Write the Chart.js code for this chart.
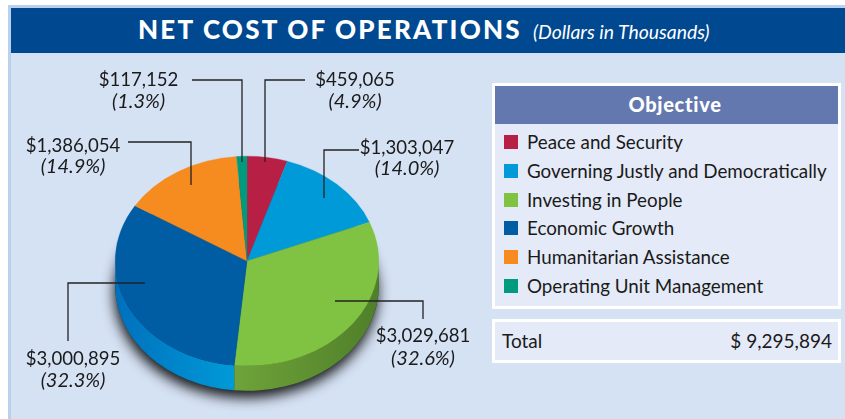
<!DOCTYPE html>
<html><head><meta charset="utf-8">
<script src="https://cdn.jsdelivr.net/npm/chart.js@4"></script>
<style>
html,body{margin:0;padding:0;background:#fff;overflow:hidden}
body{width:845px;height:419px;position:relative;font-family:Lato,sans-serif;color:#1a1a1a}
div{position:absolute;box-sizing:border-box}
#band{left:8px;top:5px;width:837px;height:414px;background:#b9d0ef}
#panel{left:11px;top:8px;width:834px;height:411px;background:#d5e2f4}
#head{left:11px;top:8px;width:834px;height:45px;background:#004890;color:#fff}
#t1{left:127px;top:5px;font-weight:900;font-size:26px;letter-spacing:2.2px;white-space:nowrap}
#t2{left:522px;top:12px;font-style:italic;font-size:19.4px;white-space:nowrap;line-height:24px}
.box{background:#e4eaf7;border:3px solid #fff;left:492px;width:349px}
#legend{top:83px;height:226px}
#lh{left:0;top:0;width:343px;height:38px;background:#6478b0;color:#fff;font-weight:900;font-size:20px;letter-spacing:.7px;text-align:center;line-height:37px;padding-left:17px}
.sw{left:9px;width:14px;height:14px}
.lt{left:32px;font-size:18.8px;white-space:nowrap;line-height:24px}
#total{top:319px;height:44px;font-size:19px}
#tl{left:7px;top:7px}#tv{right:6px;top:7px}
canvas{position:absolute;left:0;top:0}
</style></head><body>
<div id="band"></div><div id="panel"></div>
<div id="head"><div id="t1">NET COST OF OPERATIONS</div><div id="t2">(Dollars in Thousands)</div></div>
<div id="legend" class="box"><div id="lh">Objective</div></div>
<div id="total" class="box"><div id="tl">Total</div><div id="tv">$ 9,295,894</div></div>
<canvas id="c" width="845" height="419"></canvas>
<script>
const categories=["Peace and Security","Governing Justly and Democratically","Investing in People","Economic Growth","Humanitarian Assistance","Operating Unit Management"];
const values=[459065,1303047,3029681,3000895,1386054,117152];
const percents=["(4.9%)","(14.0%)","(32.6%)","(32.3%)","(14.9%)","(1.3%)"];
const colors=["#b81f45","#009ad8","#80c342","#005da4","#f68b1f","#009b7e"];
const wallFrom=["#8f1836","#0078b0","#6fa33a","#0070bc","#c46e16","#007a63"];
const wallTo=["#8f1836","#0078b0","#4f7f29","#009ad8","#c46e16","#007a63"];

// layout constants
const SQUASH=105/132, DEPTH=25;
const labelPos=[[355,86,108],[407,154,175],[423,342,365],[73,365,387],[73,152,173],[138.5,86,108]];
const leaders=[
 [[305,80],[265,80],[265,162]],
 [[359,150],[324,150],[324,198]],
 [[335,301],[423,301],[423,319]],
 [[68,341],[68,283],[145,283]],
 [[128,142],[191,142],[191,185]],
 [[192,80],[242,80],[242,162]]
];

const legend=document.getElementById('legend');
categories.forEach((c,i)=>{
  const s=document.createElement('div');s.className='sw';s.style.top=(49+i*28.8)+'px';s.style.background=colors[i];legend.appendChild(s);
  const t=document.createElement('div');t.className='lt';t.style.top=(44+i*28.8)+'px';t.textContent=c;legend.appendChild(t);
});

const tilt={
  id:'tilt',
  beforeDatasetsDraw(chart){
    const ctx=chart.ctx,arcs=chart.getDatasetMeta(0).data;
    const cx=arcs[0].x,cy=arcs[0].y,rx=arcs[0].outerRadius,ry=rx*SQUASH;
    ctx.save();
    ctx.shadowColor='rgba(0,0,0,0.9)';ctx.shadowBlur=13;ctx.shadowOffsetY=7;ctx.shadowOffsetX=-1;
    ctx.fillStyle='#223';
    ctx.beginPath();ctx.ellipse(cx,cy+DEPTH,rx,ry,0,0,Math.PI*2);ctx.fill();
    ctx.restore();
    arcs.forEach((a,i)=>{
      const s=Math.max(a.startAngle,0),e=Math.min(a.endAngle,Math.PI);
      if(e<=s)return;
      const x0=cx+rx*Math.cos(e),x1=cx+rx*Math.cos(s);
      const g=ctx.createLinearGradient(x0,0,x1,0);
      g.addColorStop(0,wallFrom[i]);g.addColorStop(1,wallTo[i]);
      ctx.fillStyle=g;
      ctx.beginPath();
      ctx.ellipse(cx,cy,rx,ry,0,s,e);
      ctx.ellipse(cx,cy+DEPTH,rx,ry,0,e,s,true);
      ctx.closePath();ctx.fill();
    });
    ctx.save();
    ctx.translate(cx,cy);ctx.scale(1,SQUASH);ctx.translate(-cx,-cy);
  },
  afterDatasetsDraw(chart){
    const ctx=chart.ctx;
    ctx.restore();
    ctx.save();
    ctx.strokeStyle='#222';ctx.lineWidth=1.3;
    leaders.forEach(l=>{ctx.beginPath();l.forEach((p,i)=>i?ctx.lineTo(p[0],p[1]):ctx.moveTo(p[0],p[1]));ctx.stroke();});
    ctx.fillStyle='#1a1a1a';ctx.textAlign='center';ctx.textBaseline='alphabetic';
    values.forEach((v,i)=>{
      const p=labelPos[i];
      ctx.font='18.6px Lato';ctx.fillText('$'+v.toLocaleString('en-US'),p[0],p[1]);
      ctx.font='italic 20px Lato';ctx.fillText(percents[i],p[0],p[2]);
    });
    ctx.restore();
  }
};

new Chart(document.getElementById('c'),{
  type:'pie',
  data:{labels:categories,datasets:[{data:values,backgroundColor:colors,borderColor:colors,borderWidth:0.4}]},
  options:{
    responsive:false,animation:false,
    layout:{padding:{left:115,right:466,top:129,bottom:26}},
    plugins:{legend:{display:false},tooltip:{enabled:false},title:{display:false}}
  },
  plugins:[tilt]
});
</script>
</body></html>
